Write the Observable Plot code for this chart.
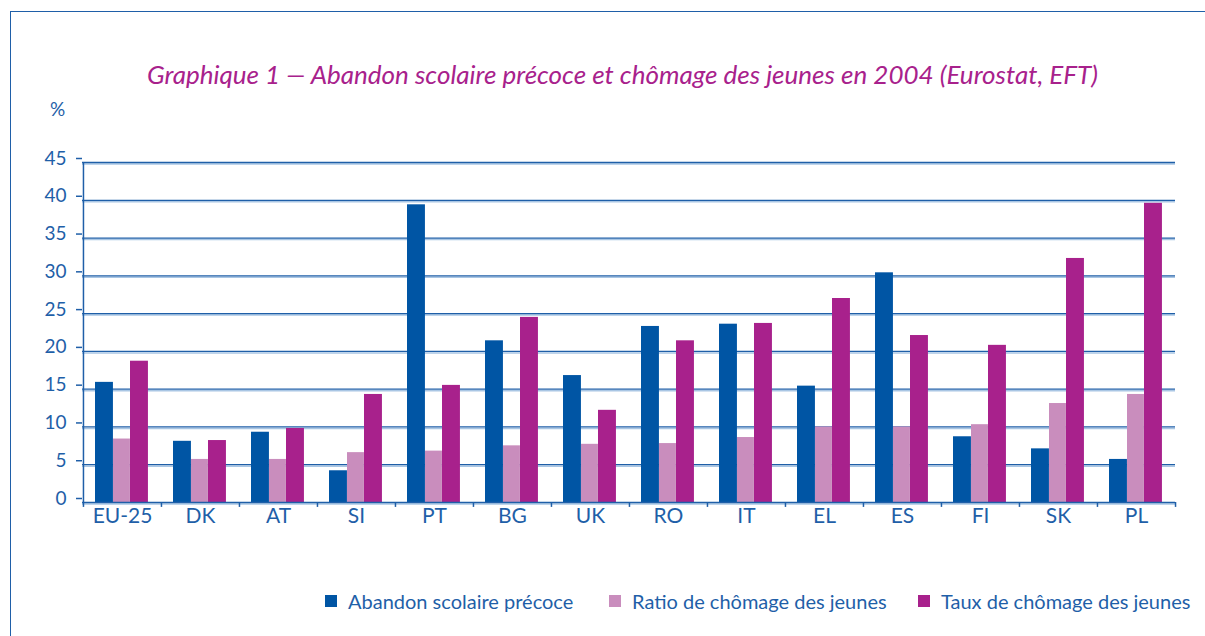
<!DOCTYPE html>
<html>
<head>
<meta charset="utf-8">
<script src="https://cdn.jsdelivr.net/npm/d3@7"></script>
<script src="https://cdn.jsdelivr.net/npm/@observablehq/plot@0.6"></script>
<style>
  html, body { margin: 0; padding: 0; background: #fff; }
  #wrap { position: relative; width: 1205px; height: 636px; overflow: hidden; font-family: Lato, "Open Sans", sans-serif; }
  #frame { position: absolute; left: 10px; top: 11px; width: 1300px; height: 700px; border-left: 1.5px solid #1f5fa8; border-top: 1.5px solid #1f5fa8; }
  #title { position: absolute; left: 0; top: 58px; width: 1245px; text-align: center; font-style: italic; font-size: 26px; color: #a8218c; white-space: nowrap; }
  #unit { position: absolute; left: 50px; top: 97px; font-size: 19px; color: #1f5fa8; }
  #chart { position: absolute; left: 0; top: 0; }
  .leg { position: absolute; top: 589px; font-size: 20px; color: #1f5fa8; display: flex; align-items: center; white-space: nowrap; }
  .leg span.sw { display: inline-block; width: 12px; height: 12px; margin-right: 11px; }
</style>
</head>
<body>
<div id="wrap">
  <div id="frame"></div>
  <div id="title"></div>
  <div id="unit">%</div>
  <div id="chart"></div>
  <div id="legend"></div>
</div>
<script>
const titleText = "Graphique 1 — Abandon scolaire précoce et chômage des jeunes en 2004 (Eurostat, EFT)";
const countries = ["EU-25","DK","AT","SI","PT","BG","UK","RO","IT","EL","ES","FI","SK","PL"];
const abandon = [15.9, 8.1, 9.3, 4.2, 39.4, 21.4, 16.8, 23.3, 23.6, 15.4, 30.4, 8.7, 7.1, 5.7];
const ratio   = [8.4, 5.7, 5.7, 6.6, 6.8, 7.5, 7.7, 7.8, 8.6, 10.0, 10.0, 10.3, 13.1, 14.3];
const taux    = [18.7, 8.2, 9.8, 14.3, 15.5, 24.5, 12.2, 21.4, 23.7, 27.0, 22.1, 20.8, 32.3, 39.6];
const yTicks = [0, 5, 10, 15, 20, 25, 30, 35, 40, 45];
const seriesNames = ["Abandon scolaire précoce", "Ratio de chômage des jeunes", "Taux de chômage des jeunes"];
const seriesColors = ["#0055a4", "#c98dbd", "#a8218c"];

document.getElementById("title").textContent = titleText;

const W = 1205, H = 540, mL = 82, mR = 30, mT = 162, mB = 38;
const bw = (W - mL - mR) / countries.length;
const axisBlue = "#1f5fa8", shadow = "#a9c6e4";

const rows = s => countries.map((c, i) => ({country: c, value: s[i]}));
const seriesData = [abandon, ratio, taux].map(rows);
const insets = [[12, 30], [30, 47], [47, 65]];

const chart = Plot.plot({
  width: W, height: H,
  marginLeft: mL, marginRight: mR, marginTop: mT, marginBottom: mB,
  style: {fontFamily: "Lato, 'Open Sans', sans-serif", color: axisBlue, background: "transparent"},
  x: {type: "band", domain: countries, padding: 0, axis: null},
  y: {domain: [0, 45], axis: null},
  marks: [
    Plot.ruleY(yTicks.filter(d => d > 0), {stroke: shadow, strokeWidth: 1.5, dy: 1.5}),
    Plot.ruleY(yTicks.filter(d => d > 0), {stroke: axisBlue, strokeWidth: 1.3}),
    ...seriesData.map((d, k) => Plot.barY(d, {
      x: "country", y: "value", fill: seriesColors[k],
      insetLeft: insets[k][0], insetRight: bw - insets[k][1]
    })),
    Plot.ruleY([0], {stroke: shadow, strokeWidth: 1.5, dy: 1.5}),
    Plot.ruleY([0], {stroke: axisBlue, strokeWidth: 1.5}),
    Plot.ruleX([countries[0]], {x: d => d, y1: 0, y2: 45, dx: -bw / 2, stroke: axisBlue, strokeWidth: 1.5}),
    Plot.ruleX(countries, {x: d => d, y1: 0, y2: -0.65, dx: -bw / 2, stroke: axisBlue, strokeWidth: 1.5}),
    Plot.ruleX([countries[countries.length - 1]], {x: d => d, y1: 0, y2: -0.65, dx: bw / 2, stroke: axisBlue, strokeWidth: 1.5}),
    Plot.axisY(yTicks, {anchor: "left", tickSize: 6, tickPadding: 10, fontSize: 19, stroke: axisBlue, fill: axisBlue, strokeWidth: 1.5, dy: -4, label: null}),
    Plot.axisX({anchor: "bottom", tickSize: 0, tickPadding: 6, fontSize: 21, fill: axisBlue, label: null})
  ]
});
document.getElementById("chart").appendChild(chart);

const legendLeft = [325, 609, 918];
const legend = document.getElementById("legend");
seriesNames.forEach((name, k) => {
  const item = document.createElement("div");
  item.className = "leg";
  item.style.left = legendLeft[k] + "px";
  const sw = document.createElement("span");
  sw.className = "sw";
  sw.style.background = seriesColors[k];
  item.appendChild(sw);
  item.appendChild(document.createTextNode(name));
  legend.appendChild(item);
});
</script>
</body>
</html>
